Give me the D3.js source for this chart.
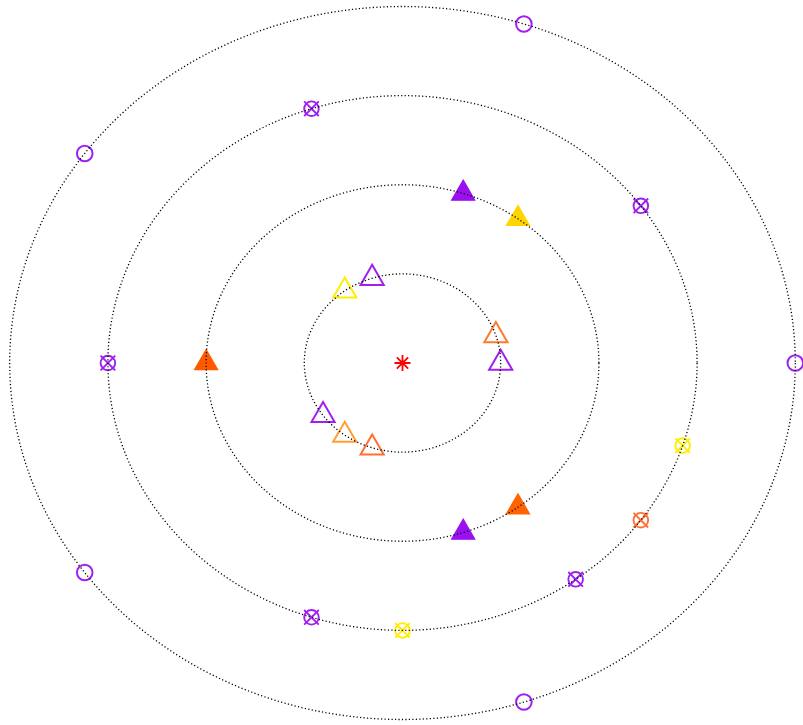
<!DOCTYPE html>
<html><head><meta charset="utf-8">
<script src="https://cdn.jsdelivr.net/npm/d3@7"></script>
<style>html,body{margin:0;padding:0;background:#fff;}svg{display:block;}</style>
</head><body>
<script>
// Orbit radii (data units)
const orbits = [1, 2, 3, 4];
// Bodies: orbit index, angle in degrees, colour, marker type
const bodyOrbit = [1,1,1,1,1,1,1, 2,2,2,2,2, 3,3,3,3,3,3,3,3, 4,4,4,4,4];
const bodyAngle = [108,126,18,0,216,234,252, 72,54,180,288,306, 108,36,180,342,324,306,252,270, 72,144,0,216,288];
const bodyColor = [
  "#A020F0","#FFEE00","#FF7A2A","#A020F0","#A020F0","#FFA030","#FF7030",
  "#9A10F0","#FFD500","#FF5A00","#9A10F0","#FF6400",
  "#A020F0","#A020F0","#A020F0","#FFEE00","#FF7035","#A020F0","#A020F0","#FFEE00",
  "#A020F0","#A020F0","#A020F0","#A020F0","#A020F0"];
const bodyShape = ["triOpen","triOpen","triOpen","triOpen","triOpen","triOpen","triOpen",
  "triFill","triFill","triFill","triFill","triFill",
  "circX","circX","circX","circX","circX","circX","circX","circX",
  "circ","circ","circ","circ","circ"];

const W = 803, H = 725;
const svg = d3.select("body").append("svg").attr("width", W).attr("height", H);

const cx = 402.5, cy = 363;
const x = d3.scaleLinear().domain([-4, 4]).range([cx - 392.8, cx + 392.8]);
const y = d3.scaleLinear().domain([-4, 4]).range([cy + 356.5, cy - 356.5]);

const bodies = bodyOrbit.map((o, i) => {
  const a = bodyAngle[i] * Math.PI / 180;
  return { px: x(o * Math.cos(a)), py: y(o * Math.sin(a)), color: bodyColor[i], shape: bodyShape[i] };
});

const gM = svg.append("g");
const s = 8.6;
const TRC0 = 1.5551203, TRC1 = TRC0 * Math.sqrt(3) / 2, TRC2 = TRC0 / 2;
function triPath(px, py) {
  const r = TRC0 * s, xc = TRC1 * s, yc = TRC2 * s;
  return `M${px},${py - r}L${px + xc},${py + yc}L${px - xc},${py + yc}Z`;
}
bodies.forEach(b => {
  if (b.shape === "triOpen") {
    gM.append("path").attr("d", triPath(b.px, b.py)).attr("fill", "none")
      .attr("stroke", b.color).attr("stroke-width", 2).attr("stroke-linejoin", "miter");
  } else if (b.shape === "triFill") {
    gM.append("path").attr("d", triPath(b.px, b.py)).attr("fill", b.color)
      .attr("stroke", b.color).attr("stroke-width", 1.2);
  } else if (b.shape === "circX") {
    const r = 7.3;
    gM.append("circle").attr("cx", b.px).attr("cy", b.py).attr("r", r)
      .attr("fill", "none").attr("stroke", b.color).attr("stroke-width", 1.9);
    gM.append("path").attr("d", `M${b.px - r},${b.py - r}L${b.px + r},${b.py + r}M${b.px - r},${b.py + r}L${b.px + r},${b.py - r}`)
      .attr("stroke", b.color).attr("stroke-width", 1.9);
  } else {
    gM.append("circle").attr("cx", b.px).attr("cy", b.py).attr("r", 7.8)
      .attr("fill", "none").attr("stroke", b.color).attr("stroke-width", 2);
  }
});

// Sun
const sr = 8, sd = sr * Math.SQRT1_2;
svg.append("path")
  .attr("d", `M${x(0) - sr},${y(0)}L${x(0) + sr},${y(0)}M${x(0)},${y(0) - sr}L${x(0)},${y(0) + sr}` +
             `M${x(0) - sd},${y(0) - sd}L${x(0) + sd},${y(0) + sd}M${x(0) - sd},${y(0) + sd}L${x(0) + sd},${y(0) - sd}`)
  .attr("stroke", "#FF0000").attr("stroke-width", 1.8);

// Orbits (dotted), drawn on top like the reference
svg.append("g").selectAll("ellipse").data(orbits).join("ellipse")
  .attr("cx", x(0)).attr("cy", y(0))
  .attr("rx", d => x(d) - x(0)).attr("ry", d => y(0) - y(d))
  .attr("fill", "none").attr("stroke", "#000").attr("stroke-width", 1.3)
  .attr("stroke-dasharray", "1.2 2.3");
</script>
</body></html>
